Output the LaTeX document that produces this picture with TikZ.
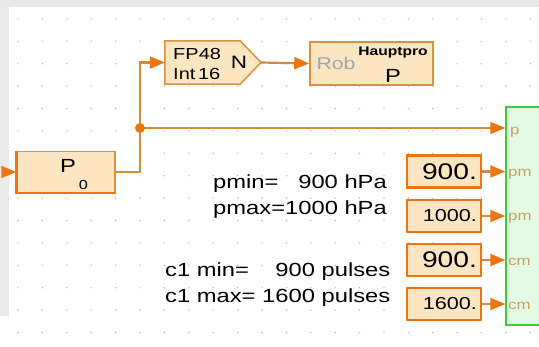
\documentclass[tikz,border=0pt]{standalone}
\usepackage{fontspec}
\setmainfont{Liberation Sans}[FakeStretch=1.25]
\usetikzlibrary{arrows.meta}
\definecolor{boxfill}{HTML}{FCE6C2}
\definecolor{boxline}{HTML}{D8913F}
\definecolor{orng}{HTML}{EE7410}
\definecolor{wirec}{HTML}{D6893A}
\definecolor{grnfill}{HTML}{E3FAE3}
\definecolor{grnline}{HTML}{3CCB3C}
\definecolor{lblc}{HTML}{C9A064}
\definecolor{dotc}{HTML}{ABABAB}
\definecolor{robc}{HTML}{A0A6AE}
\newcommand{\myfs}[2]{\fontsize{#1}{#2}\selectfont}
\tikzset{
  wire/.style={draw=wirec, line width=2.2pt},
  arr/.style={-{Triangle[length=15pt,width=12pt,color=orng]}},
  fbox/.style={draw=boxline, fill=boxfill, line width=1.5pt, inner sep=0pt},
  constbox/.style={draw=orng, fill=boxfill, line width=2.5pt, minimum height=32pt,
    text width=66pt, align=right, inner xsep=4pt, inner ysep=0pt},
  portlbl/.style={text=lblc, anchor=west, inner sep=0pt, font=\myfs{13.5}{15}},
  plain/.style={inner sep=0pt},
}
\begin{document}
\begin{tikzpicture}[x=1pt,y=-1pt]
\useasboundingbox (0,0) rectangle (539,347);
\clip (0,0) rectangle (539,347);
\fill[white] (0,0) rectangle (539,347);
\fill[black!9] (0,0) rectangle (539,7);
\fill[black!8] (0,7) rectangle (9,316);
\foreach \i in {0,...,21} \foreach \j in {0,...,14}
  \fill[dotc] (18+24.4*\i, 19+22.4*\j) circle (0.7);
% green block
\node[draw=grnline, fill=grnfill, line width=1.5pt, minimum width=60pt, minimum height=218pt, inner sep=0pt] (grn) at (536,216) {};
% P0 block
\node[fbox, minimum width=98pt, minimum height=41pt] (p0) at (66,172) {};
\draw[orng, line width=2.5pt] (p0.north west) -- (p0.south west) -- (p0.south east);
\node[plain, font=\myfs{19}{21}] (p0t) at (68,166) {P};
\node[plain, font=\myfs{13}{15}] (p0s) at (83.5,185) {0};
\coordinate (p0in) at (2,172);
\draw[arr, draw=orng, line width=2pt] (p0in) -- (p0.west);
% FP48 block
\node[plain, minimum width=75pt, minimum height=43pt] (fp) at (202.5,62.5) {};
\coordinate (fptip) at (261,62.5);
\draw[fbox] (fp.north west) -- (fp.north east) -- (fptip) -- (fp.south east) -- (fp.south west) -- cycle;
\node[plain, font=\myfs{16}{18}, anchor=base west] (fpa) at (173,60) {FP48};
\node[plain, font=\myfs{16}{18}, anchor=base west] (fpb) at (173,80) {Int\,16};
\node[plain, font=\myfs{18}{20}] (fpn) at (239,62.5) {N};
% Rob block
\node[fbox, minimum width=123pt, minimum height=43pt] (rob) at (371.5,63.5) {};
\node[plain, font=\myfs{17}{19}, text=robc] (robt) at (336,63) {Rob};
\node[plain, font=\bfseries\myfs{12.5}{14}] (robh) at (393,53) {Hauptpro};
\node[plain, font=\myfs{19}{21}] (robp) at (393,75.5) {P};
% wires
\coordinate (jn) at (140,128);
\draw[wire, arr] (p0.east) -| (jn) |- (fp.west);
\draw[wire, arr] (fptip) -- (rob.west);
\draw[wire, arr] (jn) -- (jn -| grn.west);
\fill[orng] (jn) circle (5);
\node[portlbl] (lp) at (510,132) {p};
% constants
\node[constbox, font=\myfs{22.6}{24}] (c1) at (444,171.5) {900.};
\node[constbox, font=\myfs{17.3}{19}] (c2) at (444,216) {1000.};
\node[constbox, font=\myfs{22.6}{24}] (c3) at (444,260) {900.};
\node[constbox, font=\myfs{17.3}{19}] (c4) at (444,304) {1600.};
\draw[wire, arr] (c1.east) -- (c1.east -| grn.west);
\draw[wire, arr] (c2.east) -- (c2.east -| grn.west);
\draw[wire, arr] (c3.east) -- (c3.east -| grn.west);
\draw[wire, arr] (c4.east) -- (c4.east -| grn.west);
\node[portlbl] (l1) at (508,174) {pm};
\node[portlbl] (l2) at (508,218) {pm};
\node[portlbl] (l3) at (508,262) {cm};
\node[portlbl] (l4) at (508,306) {cm};
% texts
\node[plain, anchor=base west, font=\myfs{19}{26}] (ptxt) at (213,189)
  {\begin{tabular}[t]{@{}l@{}r@{}}pmin=&900 hPa\\pmax=&1000 hPa\end{tabular}};
\node[plain, anchor=base west, font=\myfs{19}{26}] (ctxt) at (165,277)
  {\begin{tabular}[t]{@{}l@{}r@{}}c1 min=&900 pulses\\c1 max=&\ 1600 pulses\end{tabular}};
\end{tikzpicture}
\end{document}
